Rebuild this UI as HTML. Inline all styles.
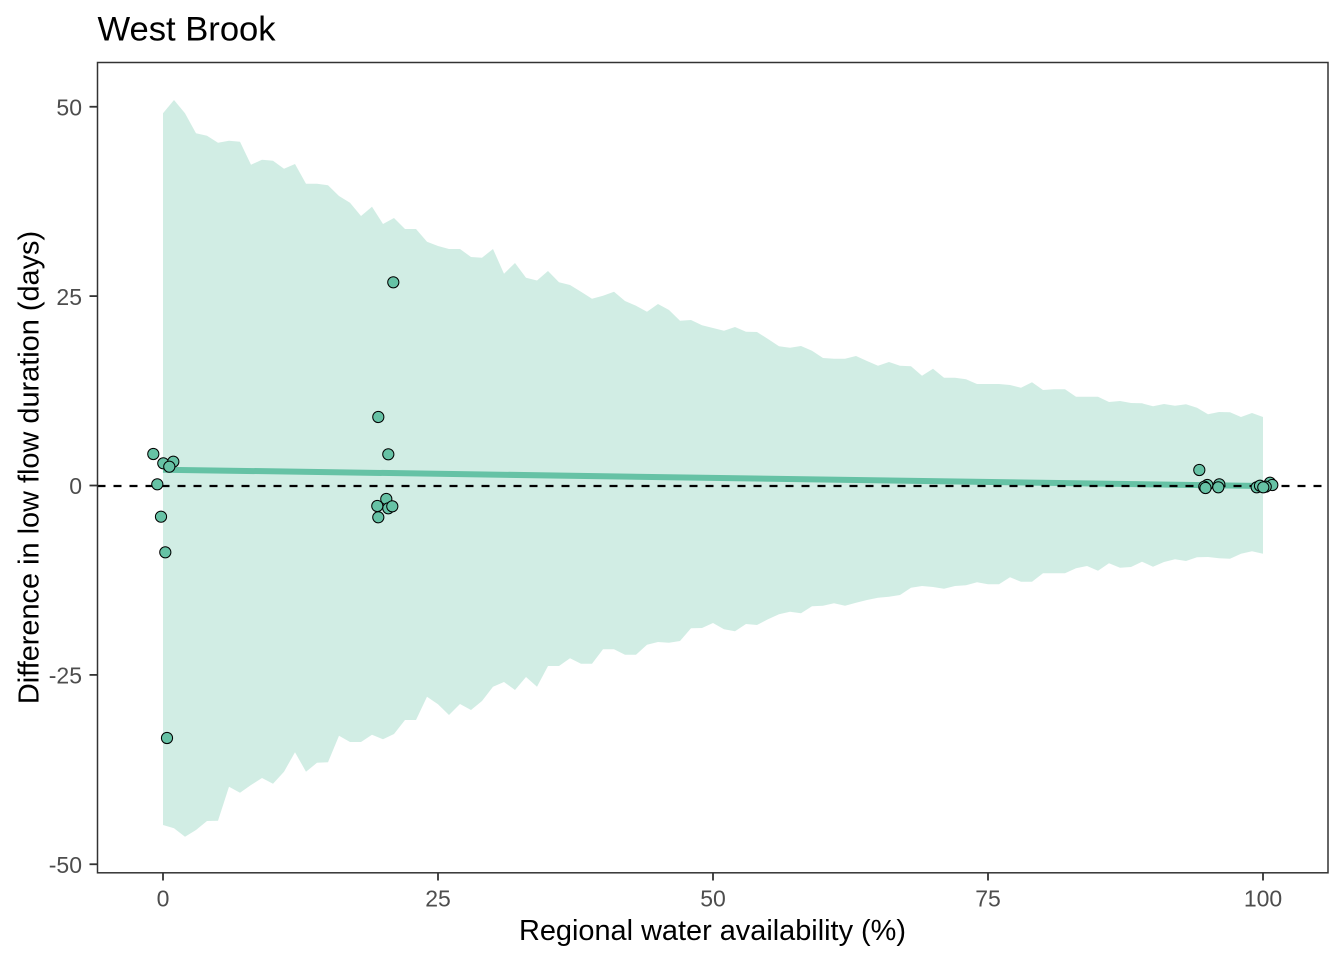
<!DOCTYPE html>
<html>
<head>
<meta charset="utf-8">
<style>
html,body{margin:0;padding:0;background:#fff;}
svg{display:block;}
text{font-family:"Liberation Sans",Arial,sans-serif;}
</style>
</head>
<body>
<svg width="1344" height="960" viewBox="0 0 1344 960" xmlns="http://www.w3.org/2000/svg">
<rect x="0" y="0" width="1344" height="960" fill="#fff"/>
<!-- ribbon -->
<polygon fill="#66C2A5" fill-opacity="0.3" points="163,113.3 174,100 185,113.3 196,133.3 207,135.7 218,142.7 229,140.7 240,141.7 251,164.7 262,159.7 273,160.7 284,168.7 295,164 306,183.7 317,183.7 328,185.3 339,196 350,202.7 361,216 372,206.7 383,224 394,218 405,229 416,229 427,241.7 438,246 449,249 460,249 471,257 482,257.7 493,249 504,273.7 515,263 526,277.7 537,280.5 548,271 559,282.3 570,285 581,291.7 592,298.7 603,295.7 614,291.7 625,301 636,305.7 647,311.7 658,304 669,310 680,320.7 691,320 702,325.3 713,328 724,330.7 735,327 746,331.7 757,332 768,339 779,346.3 790,347.7 801,346 812,350.7 823,358 834,358.7 845,358.7 856,356 867,361 878,365.7 889,362 900,365.7 911,366.3 922,375.7 933,368.7 944,377.7 955,377.7 966,379.3 977,384 988,384 999,384 1010,385 1021,387.7 1032,382.3 1043,390 1054,389.3 1065,389.3 1076,396.7 1087,396.7 1098,396.7 1109,402 1120,401 1131,403 1142,403.3 1153,406.3 1164,404 1175,405.7 1186,404.3 1197,407.7 1208,414.3 1219,412 1230,412.3 1241,417 1252,413 1263,417 1263,553.7 1252,551.3 1241,553.7 1230,558.7 1219,558.3 1208,557 1197,557.3 1186,561 1175,559.3 1164,562 1153,566.7 1142,561.7 1131,567 1120,567.7 1109,563.3 1098,570.7 1087,566 1076,568.3 1065,573.3 1054,573.3 1043,573.3 1032,581.7 1021,581.7 1010,577.3 999,584.3 988,584.3 977,582.3 966,585.3 955,586 944,588.7 933,587 922,586 911,587.7 900,595 889,596.7 878,597.7 867,600 856,602.7 845,605.7 834,603.3 823,605.7 812,606.3 801,613.3 790,611.7 779,614.3 768,619.3 757,625 746,624 735,631.3 724,629.3 713,623 702,628 691,628.3 680,641 669,642.7 658,642 647,644.7 636,654.7 625,654.7 614,649.3 603,649.3 592,663.7 581,663.7 570,658.3 559,666 548,666 537,686.7 526,677 515,690 504,682 493,686.7 482,701 471,710 460,704 449,715 438,704.3 427,696.7 416,720 405,720 394,734 383,739.3 372,734.7 361,742 350,742 339,735.7 328,762.3 317,762.7 306,771.7 295,752.3 284,771.7 273,783.7 262,778 251,785 240,792.7 229,786.7 218,820.7 207,821 196,830 185,836.7 174,828.3 163,825"/>
<!-- fit line -->
<line x1="163" y1="469.7" x2="1263" y2="486" stroke="#66C2A5" stroke-width="6"/>
<!-- zero line -->
<line x1="97.5" y1="486" x2="1328" y2="486" stroke="#000" stroke-width="2.2" stroke-dasharray="8 8"/>
<!-- points -->
<g fill="#66C2A5" stroke="#000" stroke-width="1">
<circle cx="153.3" cy="454" r="5.6"/>
<circle cx="163.3" cy="463.3" r="5.6"/>
<circle cx="173.3" cy="461.7" r="5.6"/>
<circle cx="169.3" cy="466.7" r="5.6"/>
<circle cx="157.3" cy="484.3" r="5.6"/>
<circle cx="161" cy="516.7" r="5.6"/>
<circle cx="165.3" cy="552.3" r="5.6"/>
<circle cx="167" cy="738" r="5.6"/>
<circle cx="393.3" cy="282.3" r="5.6"/>
<circle cx="378.3" cy="417" r="5.6"/>
<circle cx="388.3" cy="454.3" r="5.6"/>
<circle cx="386.3" cy="499" r="5.6"/>
<circle cx="388.3" cy="508.3" r="5.6"/>
<circle cx="377.3" cy="506" r="5.6"/>
<circle cx="392.3" cy="506.3" r="5.6"/>
<circle cx="378.3" cy="517.3" r="5.6"/>
<circle cx="1199.3" cy="470" r="5.6"/>
<circle cx="1207.3" cy="485" r="5.6"/>
<circle cx="1204.3" cy="486.7" r="5.6"/>
<circle cx="1205.5" cy="488" r="5.6"/>
<circle cx="1219.3" cy="484.3" r="5.6"/>
<circle cx="1218.3" cy="487.3" r="5.6"/>
<circle cx="1256.7" cy="487.3" r="5.6"/>
<circle cx="1260" cy="485.7" r="5.6"/>
<circle cx="1270" cy="482.7" r="5.6"/>
<circle cx="1272.3" cy="485" r="5.6"/>
<circle cx="1265.7" cy="486.7" r="5.6"/>
<circle cx="1263.3" cy="487.3" r="5.6"/>
</g>
<!-- panel border -->
<rect x="97.5" y="62.5" width="1230.5" height="810.3" fill="none" stroke="#333" stroke-width="1.5"/>
<!-- y ticks -->
<g stroke="#333" stroke-width="1.8">
<line x1="89.5" y1="106.75" x2="97.5" y2="106.75"/>
<line x1="89.5" y1="296.1" x2="97.5" y2="296.1"/>
<line x1="89.5" y1="485.5" x2="97.5" y2="485.5"/>
<line x1="89.5" y1="674.9" x2="97.5" y2="674.9"/>
<line x1="89.5" y1="864.25" x2="97.5" y2="864.25"/>
<line x1="163" y1="873" x2="163" y2="880.5"/>
<line x1="438" y1="873" x2="438" y2="880.5"/>
<line x1="713" y1="873" x2="713" y2="880.5"/>
<line x1="988" y1="873" x2="988" y2="880.5"/>
<line x1="1263" y1="873" x2="1263" y2="880.5"/>
</g>
<g fill="#4D4D4D" font-size="23" text-anchor="end">
<text x="82" y="115.5">50</text>
<text x="82" y="304.8">25</text>
<text x="82" y="494.2">0</text>
<text x="82" y="683.6">-25</text>
<text x="82" y="873">-50</text>
</g>
<g fill="#4D4D4D" font-size="23" text-anchor="middle">
<text x="163" y="906.5">0</text>
<text x="438" y="906.5">25</text>
<text x="713" y="906.5">50</text>
<text x="988" y="906.5">75</text>
<text x="1263" y="906.5">100</text>
</g>
<text x="712.5" y="940" font-size="28.9" text-anchor="middle" fill="#000">Regional water availability (%)</text>
<text transform="translate(38.5,467.5) rotate(-90)" x="0" y="0" font-size="28.9" text-anchor="middle" fill="#000">Difference in low flow duration (days)</text>
<text x="97.5" y="40.7" font-size="34.6" fill="#000">West Brook</text>
</svg>
</body>
</html>
